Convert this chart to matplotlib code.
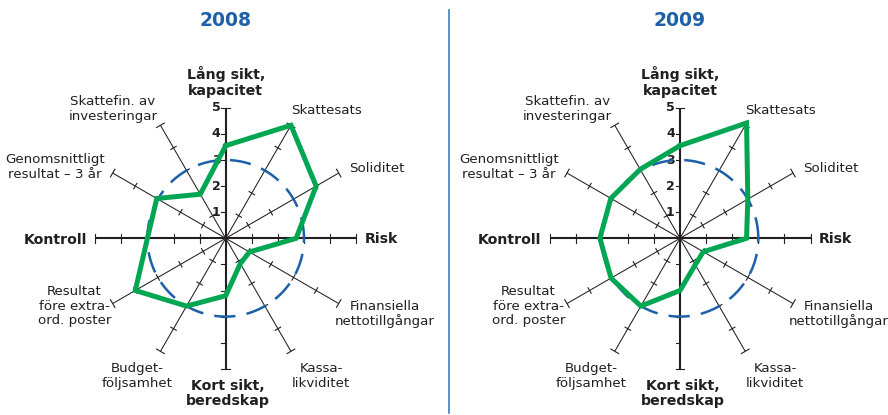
import numpy as np
import matplotlib
matplotlib.use("Agg")
import matplotlib.pyplot as plt
from matplotlib.lines import Line2D

plt.rcParams['font.family'] = ['Liberation Sans Narrow', 'DejaVu Sans']

# axis names, clockwise from the top
axis_labels = [
    "Lång sikt,\nkapacitet", "Skattesats", "Soliditet", "Risk",
    "Finansiella\nnettotillgångar", "Kassa-\nlikviditet", "Kort sikt,\nberedskap",
    "Budget-\nföljsamhet", "Resultat\nföre extra-\nord. poster", "Kontroll",
    "Genomsnittligt\nresultat – 3 år", "Skattefin. av\ninvesteringar",
]
bold_axes = ["Lång sikt,\nkapacitet", "Risk", "Kort sikt,\nberedskap", "Kontroll"]
angles_deg = [90, 60, 30, 0, -30, -60, -90, -120, -150, 180, 150, 120]

values_2008 = [3.55, 5.0, 4.0, 2.7, 1.05, 1.12, 2.2, 3.0, 4.0, 3.0, 3.05, 1.95]
values_2009 = [3.55, 5.1, 3.0, 2.55, 1.03, 1.17, 2.0, 3.0, 3.05, 3.07, 3.06, 3.05]
years = ["2008", "2009"]
scale_ticks = [1, 2, 3, 4, 5]
reference_level = 3

# label placement (data units, relative to centre)
label_pos = [
    (0.0, 6.0, 'center'), (2.5, 4.88, 'left'), (4.72, 2.69, 'left'), (5.33, -0.03, 'left'),
    (6.08, -2.9, 'center'), (3.65, -5.28, 'center'), (0.1, -5.95, 'center'),
    (-3.4, -5.28, 'center'), (-5.8, -2.6, 'center'), (-5.31, -0.05, 'right'),
    (-6.54, 2.73, 'center'), (-4.32, 4.95, 'center'),
]

GREEN = '#00a651'
BLUE = '#1d5fa8'
INK = '#231f20'
PX = 26.1  # pixels per unit
W, H = 888, 415


def draw_radar(ax, values, year, x0, x1, cx, cy):
    ax.set_xlim(-(cx - x0) / PX, (x1 - cx) / PX)
    ax.set_ylim(-(H - cy) / PX, cy / PX)
    ax.axis('off')
    th = np.deg2rad(angles_deg)
    for a, t in zip(angles_deg, th):
        u = np.array([np.cos(t), np.sin(t)])
        p = np.array([-np.sin(t), np.cos(t)])
        main = a in (0, 90, -90, 180)
        ax.plot([0, 5 * u[0]], [0, 5 * u[1]], color=INK,
                lw=1.5 if main else 0.75, zorder=2, solid_capstyle='butt')
        for r in scale_ticks:
            c = r * u
            if a in (90, -90):
                h = 0.17 if r == 5 else 0
                seg = np.array([c + np.array([-0.17, 0]), c + np.array([h, 0])])
            else:
                h = 0.17 if (main or r == 5) else 0.12
                seg = np.array([c - h * p, c + h * p])
            ax.plot(seg[:, 0], seg[:, 1], color=INK, lw=0.8, zorder=2)
    for r in scale_ticks:
        ax.text(-0.2, r, str(r), ha='right', va='center', fontsize=9,
                fontweight='bold', color=INK)
    phi = np.linspace(0, 2 * np.pi, 400)
    ax.plot(reference_level * np.cos(phi), reference_level * np.sin(phi),
            color=BLUE, lw=1.8, dashes=(8.5, 4.5), zorder=3)
    v = np.array(values + values[:1])
    tt = np.append(th, th[0])
    ax.plot(v * np.cos(tt), v * np.sin(tt), color=GREEN, lw=3.6,
            solid_joinstyle='miter', zorder=4)
    for lab, (lx, ly, ha) in zip(axis_labels, label_pos):
        bold = lab in bold_axes
        ax.text(lx, ly, lab, ha=ha, va='center', multialignment='center',
                fontsize=10.2 if bold else 9.6, color=INK,
                fontweight='bold' if bold else 'normal', linespacing=1.15)
    ax.text(0, 8.36, year, ha='center', va='center', fontsize=13.5,
            fontweight='bold', color=BLUE)


fig = plt.figure(figsize=(W / 100, H / 100), dpi=100)
ax1 = fig.add_axes([0, 0, 449 / W, 1])
ax2 = fig.add_axes([449 / W, 0, 1 - 449 / W, 1])
draw_radar(ax1, values_2008, years[0], 0, 449, 225.7, 238.3)
draw_radar(ax2, values_2009, years[1], 449, W, 680, 238.3)
fig.add_artist(Line2D([448.5 / W] * 2, [2 / H, 405 / H], color='#3a7fc8',
                      lw=1.2, transform=fig.transFigure))
fig.savefig('out.png', dpi=100)
